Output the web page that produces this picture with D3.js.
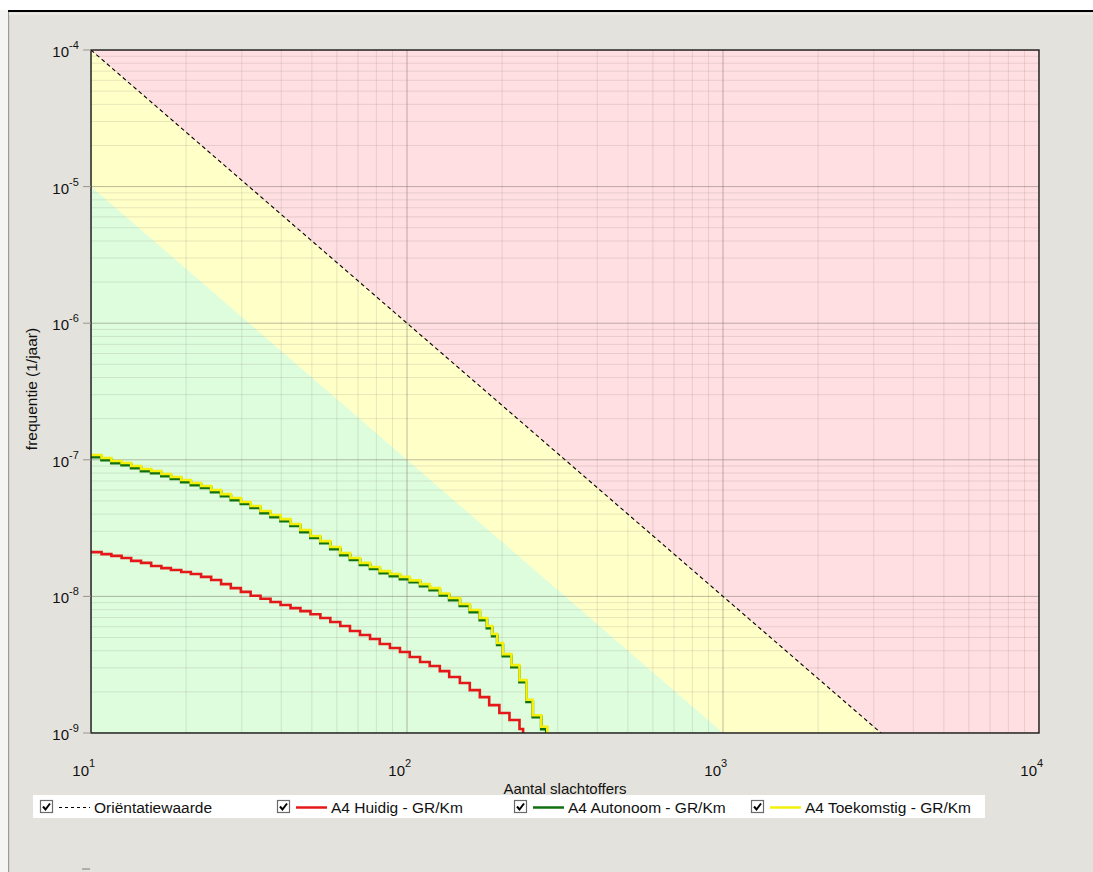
<!DOCTYPE html>
<html lang="nl">
<head>
<meta charset="utf-8">
<title>FN-curve A4</title>
<script src="https://cdn.jsdelivr.net/npm/d3@7"></script>
<style>
  body { margin: 0; background: #e4e2dc; }
  svg { display: block; font-family: "Liberation Sans", Arial, sans-serif; }
</style>
</head>
<body>
<svg id="chart" width="1093" height="872"></svg>
<script>
// aantal slachtoffers (N) en frequentie (1/jaar) per trede
var huidigN = [10, 10.8, 11.6, 12.5, 13.4, 14.4, 15.5, 16.7, 17.9, 19.3,
               20.7, 22.3, 24, 25.8, 27.7, 29.8, 32, 34.4, 37, 39.8,
               42.8, 46, 49.5, 53.2, 57.2, 61.5, 66, 71, 76.4, 82,
               88.3, 95, 102, 110, 118, 127, 136, 147, 158, 170,
               182, 196, 211, 227, 233];
var huidigF = [2.11e-8, 2.04e-8, 1.98e-8, 1.91e-8, 1.82e-8, 1.76e-8, 1.67e-8, 1.61e-8, 1.56e-8, 1.51e-8,
               1.46e-8, 1.39e-8, 1.32e-8, 1.23e-8, 1.15e-8, 1.08e-8, 1.01e-8, 9.6e-9, 9.1e-9, 8.65e-9,
               8.2e-9, 7.8e-9, 7.4e-9, 6.95e-9, 6.5e-9, 6.07e-9, 5.58e-9, 5.22e-9, 4.88e-9, 4.48e-9,
               4.19e-9, 3.92e-9, 3.6e-9, 3.31e-9, 3.09e-9, 2.84e-9, 2.57e-9, 2.32e-9, 2.06e-9, 1.83e-9,
               1.6e-9, 1.4e-9, 1.245e-9, 1.07e-9, 0.9e-9];

var autonoomN = [10, 10.8, 11.6, 12.5, 13.4, 14.4, 15.5, 16.7, 17.9, 19.3,
                 20.7, 22.3, 24, 25.8, 27.7, 29.8, 32, 34.4, 37, 39.8,
                 42.8, 46, 49.5, 53.2, 57.2, 61.5, 66, 71, 76.4, 82,
                 88.3, 95, 102, 110, 118, 127, 136, 147, 158, 170,
                 179, 186, 193, 201, 214, 227, 239, 250, 266, 276];
var autonoomF = [1.048e-7, 9.97e-8, 9.47e-8, 9.16e-8, 8.71e-8, 8.28e-8, 8.0e-8, 7.61e-8, 7.24e-8, 6.88e-8,
                 6.54e-8, 6.22e-8, 5.81e-8, 5.43e-8, 5.08e-8, 4.75e-8, 4.44e-8, 4.08e-8, 3.81e-8, 3.56e-8,
                 3.28e-8, 2.96e-8, 2.68e-8, 2.46e-8, 2.22e-8, 2.01e-8, 1.85e-8, 1.7e-8, 1.59e-8, 1.48e-8,
                 1.41e-8, 1.34e-8, 1.27e-8, 1.19e-8, 1.11e-8, 1.02e-8, 9.41e-9, 8.51e-9, 7.69e-9, 6.72e-9,
                 5.87e-9, 5.13e-9, 4.41e-9, 3.66e-9, 3.04e-9, 2.36e-9, 1.69e-9, 1.31e-9, 1.07e-9, 0.9e-9];

var toekomstigN = [10, 10.8, 11.6, 12.5, 13.4, 14.4, 15.5, 16.7, 17.9, 19.3,
                   20.7, 22.3, 24, 25.8, 27.7, 29.8, 32, 34.4, 37, 39.8,
                   42.8, 46, 49.5, 53.2, 57.2, 61.5, 66, 71, 76.4, 82,
                   88.3, 95, 102, 110, 118, 127, 136, 147, 158, 170,
                   179, 186, 193, 201, 214, 227, 239, 250, 266, 278];
var toekomstigF = [1.084e-7, 1.031e-7, 9.79e-8, 9.47e-8, 9.01e-8, 8.56e-8, 8.27e-8, 7.87e-8, 7.49e-8, 7.11e-8,
                   6.76e-8, 6.43e-8, 6.01e-8, 5.61e-8, 5.25e-8, 4.91e-8, 4.59e-8, 4.22e-8, 3.94e-8, 3.68e-8,
                   3.39e-8, 3.06e-8, 2.77e-8, 2.54e-8, 2.3e-8, 2.08e-8, 1.91e-8, 1.76e-8, 1.64e-8, 1.53e-8,
                   1.46e-8, 1.39e-8, 1.31e-8, 1.23e-8, 1.15e-8, 1.05e-8, 9.73e-9, 8.8e-9, 7.95e-9, 6.95e-9,
                   6.07e-9, 5.3e-9, 4.56e-9, 3.78e-9, 3.14e-9, 2.44e-9, 1.75e-9, 1.35e-9, 1.11e-9, 0.9e-9];

// oriëntatiewaarde en de grens tien keer lager
var orientN = [10, 10000];
var orientF = [1e-4, 1e-10];
var grensN = [10, 10000];
var grensF = [1e-5, 1e-11];

var xTickExp = [1, 2, 3, 4];
var yTickExp = [-4, -5, -6, -7, -8, -9];

var legendLabels = ["Oriëntatiewaarde", "A4 Huidig - GR/Km", "A4 Autonoom - GR/Km", "A4 Toekomstig - GR/Km"];

var svg = d3.select("#chart");
var pLeft = 91, pRight = 1039, pTop = 50, pBottom = 733;

var x = d3.scaleLog().domain([10, 10000]).range([pLeft, pRight]);
var y = d3.scaleLog().domain([1e-9, 1e-4]).range([pBottom, pTop]);

// venster-rand
svg.append("rect").attr("x", 0).attr("y", 0).attr("width", 1093).attr("height", 10).attr("fill", "#ffffff");
svg.append("rect").attr("x", 0).attr("y", 10).attr("width", 8).attr("height", 862).attr("fill", "#f4f4f2");
svg.append("rect").attr("x", 8).attr("y", 10).attr("width", 1085).attr("height", 2).attr("fill", "#000");
svg.append("rect").attr("x", 8).attr("y", 12).attr("width", 1.2).attr("height", 860).attr("fill", "#9a9a9a");
svg.append("rect").attr("x", 9).attr("y", 13).attr("width", 1084).attr("height", 2).attr("fill", "#eceae5");
svg.append("rect").attr("x", 82).attr("y", 868).attr("width", 8).attr("height", 2).attr("fill", "#b0aea8");

svg.append("clipPath").attr("id", "plotclip")
  .append("rect").attr("x", pLeft).attr("y", pTop).attr("width", pRight - pLeft).attr("height", pBottom - pTop);

var plot = svg.append("g").attr("clip-path", "url(#plotclip)");

// gebieden
plot.append("rect").attr("x", pLeft).attr("y", pTop).attr("width", pRight - pLeft).attr("height", pBottom - pTop)
  .attr("fill", "#ddfddd");

var area = d3.line().x(function(d) { return x(d[0]); }).y(function(d) { return y(d[1]); });

var yellowPoly = [[grensN[0], grensF[0]], [grensN[1], grensF[1]], [10000, 1e-3], [10, 1e-3]];
plot.append("path").attr("d", area(yellowPoly) + "Z").attr("fill", "#ffffc8");

var pinkPoly = [[orientN[0], orientF[0]], [orientN[1], orientF[1]], [10000, 1e-3], [10, 1e-3]];
plot.append("path").attr("d", area(pinkPoly) + "Z").attr("fill", "#ffdfe2");

// rasterlijnen
function isDecade(v) {
  var e = Math.log10(v);
  return Math.abs(e - Math.round(e)) < 1e-6;
}

plot.selectAll(".vgrid").data(x.ticks()).enter().append("line")
  .attr("x1", function(d) { return x(d); }).attr("x2", function(d) { return x(d); })
  .attr("y1", pTop).attr("y2", pBottom)
  .attr("stroke", function(d) { return isDecade(d) ? "rgba(110,100,90,0.45)" : "rgba(140,130,120,0.2)"; })
  .attr("stroke-width", 1);

plot.selectAll(".hgrid").data(y.ticks()).enter().append("line")
  .attr("y1", function(d) { return y(d); }).attr("y2", function(d) { return y(d); })
  .attr("x1", pLeft).attr("x2", pRight)
  .attr("stroke", function(d) { return isDecade(d) ? "rgba(110,100,90,0.45)" : "rgba(140,130,120,0.2)"; })
  .attr("stroke-width", 1);

// oriëntatiewaarde
plot.append("path")
  .attr("d", area(d3.zip(orientN, orientF)))
  .attr("fill", "none").attr("stroke", "#000").attr("stroke-width", 1.1)
  .attr("stroke-dasharray", "4,3");

// FN-curves
var step = d3.line().curve(d3.curveStepAfter)
  .x(function(d) { return x(d[0]); }).y(function(d) { return y(d[1]); });

plot.append("path").attr("d", step(d3.zip(huidigN, huidigF)))
  .attr("fill", "none").attr("stroke", "#e41818").attr("stroke-width", 2.6);
plot.append("path").attr("d", step(d3.zip(autonoomN, autonoomF)))
  .attr("fill", "none").attr("stroke", "#107010").attr("stroke-width", 2.8);
plot.append("path").attr("d", step(d3.zip(toekomstigN, toekomstigF)))
  .attr("fill", "none").attr("stroke", "#f4f00c").attr("stroke-width", 2.6);

// kader
svg.append("rect").attr("x", pLeft).attr("y", pTop).attr("width", pRight - pLeft).attr("height", pBottom - pTop)
  .attr("fill", "none").attr("stroke", "#1a1a1a").attr("stroke-width", 1.4);

// y-as labels
yTickExp.forEach(function(e) {
  var v = Math.pow(10, e);
  svg.append("line").attr("x1", 83).attr("x2", pLeft).attr("y1", y(v)).attr("y2", y(v))
    .attr("stroke", "#9a958c").attr("stroke-width", 1);
  svg.append("text").attr("x", 69).attr("y", y(v) + 7).attr("text-anchor", "end")
    .attr("font-size", "15px").attr("fill", "#111").text("10");
  svg.append("text").attr("x", 69).attr("y", y(v) - 1).attr("text-anchor", "start")
    .attr("font-size", "11px").attr("fill", "#111").text(String(e));
});

// x-as labels
xTickExp.forEach(function(e) {
  var v = Math.pow(10, e);
  svg.append("text").attr("x", x(v) - 2).attr("y", 776).attr("text-anchor", "end")
    .attr("font-size", "15px").attr("fill", "#111").text("10");
  svg.append("text").attr("x", x(v) - 2).attr("y", 767).attr("text-anchor", "start")
    .attr("font-size", "11px").attr("fill", "#111").text(String(e));
});

// as-titels
svg.append("text").attr("x", (pLeft + pRight) / 2).attr("y", 794).attr("text-anchor", "middle")
  .attr("font-size", "15px").attr("fill", "#111").text("Aantal slachtoffers");
svg.append("text").attr("transform", "translate(37,389) rotate(-90)").attr("text-anchor", "middle")
  .attr("font-size", "15.5px").attr("fill", "#111").text("frequentie (1/jaar)");

// legenda
var legendStyle = [
  { color: "#000", width: 1, dash: "3,3" },
  { color: "#e41818", width: 2.5, dash: null },
  { color: "#107010", width: 2.5, dash: null },
  { color: "#f4f00c", width: 2.5, dash: null }
];

svg.append("rect").attr("x", 33).attr("y", 795).attr("width", 952).attr("height", 23).attr("fill", "#ffffff");

var items = svg.selectAll(".legend").data(legendLabels).enter().append("g")
  .attr("transform", function(d, i) { return "translate(" + (40 + i * 237) + ",0)"; });

items.append("rect").attr("x", 0.5).attr("y", 800.5).attr("width", 12).attr("height", 12)
  .attr("fill", "#fff").attr("stroke", "#6a6a6a").attr("stroke-width", 1.2);
items.append("path").attr("d", "M3,806.5 L5.5,809.5 L10,803.5")
  .attr("fill", "none").attr("stroke", "#000").attr("stroke-width", 2);
items.append("line").attr("x1", 19).attr("x2", 50).attr("y1", 807.5).attr("y2", 807.5)
  .attr("stroke", function(d, i) { return legendStyle[i].color; })
  .attr("stroke-width", function(d, i) { return legendStyle[i].width; })
  .attr("stroke-dasharray", function(d, i) { return legendStyle[i].dash; });
items.append("text").attr("x", 54).attr("y", 813).attr("font-size", "15.5px").attr("fill", "#111")
  .text(function(d) { return d; });
</script>
</body>
</html>
